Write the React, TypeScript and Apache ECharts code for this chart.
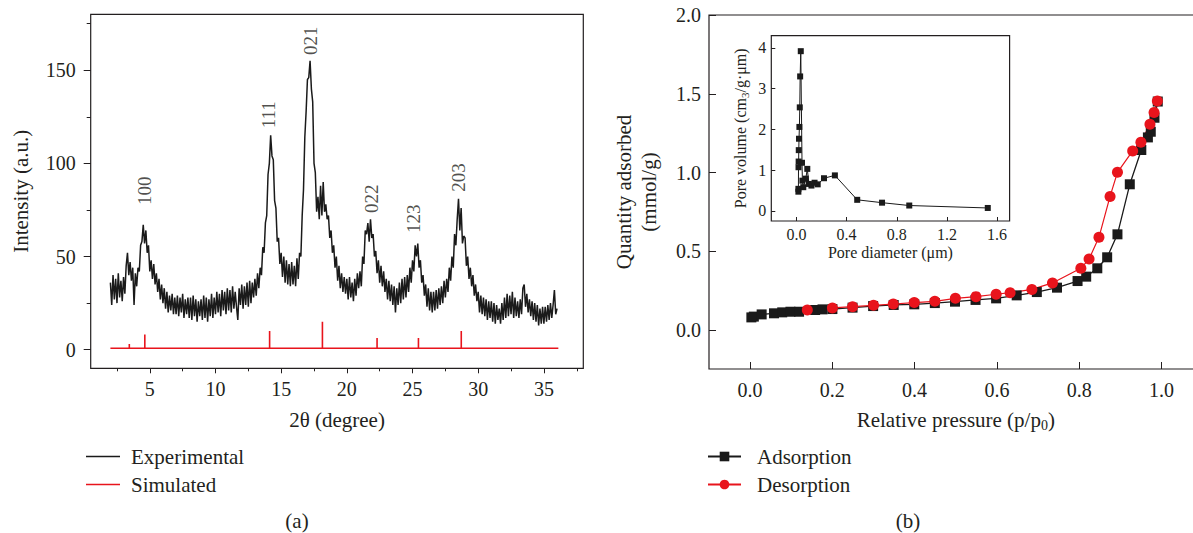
import React, { useEffect, useRef } from "react";
import * as echarts from "echarts";

// ---------------- (a) XRD pattern ----------------
const xrdTwoThetaStart = 2.0;
const xrdTwoThetaStep = 0.1;
const xrdIntensity: number[] = [
  36, 24, 40, 27, 38, 25, 41, 28, 37, 26, // 2.x
  39, 30, 45, 52, 40, 47, 37, 44, 24, 41, // 3.x
  34, 44, 42, 56, 58, 67, 57, 64, 52, 56, // 4.x
  42, 48, 38, 46, 35, 41, 31, 38, 27, 35, // 5.x
  25, 33, 22, 31, 20, 29, 21, 30, 19, 28, // 6.x
  19, 29, 18, 28, 20, 30, 17, 27, 19, 28, // 7.x
  17, 28, 16, 29, 18, 27, 15, 26, 18, 27, // 8.x
  16, 29, 17, 28, 15, 27, 18, 30, 17, 28, // 9.x
  19, 31, 20, 30, 18, 32, 21, 31, 19, 33, // 10.x
  21, 32, 20, 34, 22, 31, 23, 16, 33, 24, // 11.x
  35, 22, 34, 24, 36, 23, 37, 25, 36, 28, // 12.x
  38, 29, 41, 33, 44, 40, 55, 52, 68, 72, // 13.x
  94, 100, 115, 104, 102, 80, 76, 58, 60, 46, // 14.x
  52, 39, 50, 36, 48, 35, 46, 34, 47, 35, // 15.x
  45, 34, 49, 38, 52, 50, 72, 86, 114, 128, // 16.x
  145, 146, 155, 140, 133, 100, 95, 74, 82, 70, // 17.x
  88, 72, 90, 74, 78, 70, 72, 60, 64, 52, // 18.x
  56, 44, 50, 37, 45, 33, 41, 31, 39, 30, // 19.x
  38, 27, 39, 28, 36, 26, 38, 29, 41, 33, // 20.x
  42, 34, 50, 46, 64, 62, 68, 58, 70, 60, // 21.x
  62, 50, 53, 41, 48, 36, 45, 34, 42, 31, // 22.x
  38, 27, 37, 26, 35, 24, 34, 20, 33, 24, // 23.x
  36, 25, 38, 27, 39, 28, 40, 31, 44, 36, // 24.x
  48, 42, 56, 50, 57, 44, 48, 36, 40, 29, // 25.x
  35, 23, 33, 21, 31, 20, 31, 21, 32, 22, // 26.x
  33, 24, 34, 25, 37, 28, 38, 31, 44, 37, // 27.x
  50, 44, 62, 56, 70, 81, 64, 76, 57, 61, // 28.x
  60, 45, 50, 38, 44, 34, 40, 29, 35, 26, // 29.x
  31, 20, 29, 19, 28, 18, 27, 16, 26, 17, // 30.x
  26, 15, 25, 14, 24, 16, 22, 14, 25, 16, // 31.x
  28, 17, 30, 18, 29, 19, 31, 17, 28, 18, // 32.x
  26, 17, 27, 19, 33, 35, 23, 30, 20, 27, // 33.x
  18, 26, 16, 25, 15, 24, 13, 22, 14, 23, // 34.x
  14, 23, 15, 24, 16, 25, 17, 24, 32, 19, // 35.x
  22, // 36.0
];

const simPeakPos = [3.44, 4.62, 14.12, 18.14, 22.3, 25.45, 28.71];
const simPeakHeight = [3.0, 8.2, 10.0, 15.0, 6.3, 6.3, 10.0];
const simBaseline = 0.8;
const simStart = 2.0;
const simEnd = 36.1;

const hklLabels = ["100", "111", "021", "022", "123", "203"];
const hklPos = [4.63, 14.02, 17.2, 21.9, 25.1, 28.53];
const hklLabelBase = [77.7, 118.8, 158.2, 73.4, 62.6, 84.8];

// ---------------- (b) N2 isotherm ----------------
const adsPressure = [0.003, 0.009, 0.028, 0.058, 0.078, 0.098, 0.119, 0.158, 0.176, 0.2, 0.249, 0.299, 0.349, 0.399, 0.449, 0.498, 0.548, 0.598, 0.648, 0.697, 0.746, 0.796, 0.817, 0.844, 0.868, 0.893, 0.923, 0.951, 0.967, 0.974, 0.983, 0.991];
const adsQuantity = [0.078, 0.083, 0.097, 0.104, 0.11, 0.114, 0.114, 0.125, 0.129, 0.131, 0.14, 0.15, 0.157, 0.161, 0.169, 0.178, 0.189, 0.199, 0.218, 0.239, 0.267, 0.309, 0.337, 0.39, 0.46, 0.606, 0.924, 1.142, 1.222, 1.258, 1.347, 1.45];

const desPressure = [0.99, 0.982, 0.972, 0.95, 0.93, 0.893, 0.875, 0.848, 0.824, 0.804, 0.735, 0.685, 0.632, 0.598, 0.549, 0.499, 0.449, 0.399, 0.348, 0.3, 0.249, 0.2, 0.139];
const desQuantity = [1.453, 1.381, 1.305, 1.191, 1.136, 1.0, 0.847, 0.587, 0.449, 0.39, 0.297, 0.256, 0.235, 0.225, 0.21, 0.199, 0.18, 0.172, 0.163, 0.155, 0.146, 0.138, 0.125];

// inset: pore size distribution
const poreDiameter = [0.016, 0.016, 0.017, 0.018, 0.019, 0.021, 0.024, 0.027, 0.03, 0.035, 0.045, 0.048, 0.055, 0.075, 0.087, 0.1, 0.12, 0.145, 0.17, 0.22, 0.307, 0.485, 0.683, 0.9, 1.526];
const poreVolume = [0.47, 0.54, 1.07, 1.21, 1.49, 1.77, 2.06, 2.54, 3.3, 3.92, 1.18, 0.74, 0.58, 0.79, 1.03, 0.66, 0.62, 0.69, 0.65, 0.8, 0.87, 0.27, 0.2, 0.13, 0.07];

const FONT = '"Liberation Serif", "DejaVu Serif", serif';
const INK = "#231f20";
const RED = "#e8141c";

function hiddenAxis(gridIndex: number) {
  return { type: "value", gridIndex, show: false, min: 0, max: 1 };
}

function tickAxis(gridIndex: number, min: number, max: number, interval: number, o: any) {
  return {
    type: "value",
    gridIndex,
    min,
    max,
    interval,
    axisLine: { show: false },
    splitLine: { show: false },
    axisTick: { show: true, inside: !!o.inside, length: o.len, lineStyle: { color: INK, width: 1 } },
    axisLabel: o.labels
      ? {
          show: true,
          margin: o.margin,
          fontSize: o.fontSize,
          fontFamily: FONT,
          color: INK,
          formatter: o.formatter,
        }
      : { show: false },
  };
}

function mainAxis(gridIndex: number, min: number, max: number, extra: any) {
  return {
    type: "value",
    gridIndex,
    min,
    max,
    axisLine: { show: false },
    axisTick: { show: false },
    axisLabel: { show: false },
    splitLine: { show: false },
    nameLocation: "middle",
    ...extra,
  };
}

const border = { show: true, borderColor: INK, borderWidth: 1.2, backgroundColor: "transparent" };

export default function App() {
  const ref = useRef<HTMLDivElement>(null);

  useEffect(() => {
    if (!ref.current) return;
    const chart = echarts.init(ref.current, null, { renderer: "svg" });

    const xrdData = xrdIntensity.map((v, i) => [
      Math.round((xrdTwoThetaStart + i * xrdTwoThetaStep) * 10) / 10,
      v,
    ]);
    const simData: number[][] = [[simStart, simBaseline]];
    simPeakPos.forEach((p, i) => {
      simData.push([p, simBaseline], [p, simPeakHeight[i]], [p, simBaseline]);
    });
    simData.push([simEnd, simBaseline]);
    const hklData = hklLabels.map((n, i) => ({ name: n, value: [hklPos[i], hklLabelBase[i]] }));
    const adsData = adsPressure.map((p, i) => [p, adsQuantity[i]]);
    const desData = desPressure.map((p, i) => [p, desQuantity[i]]);
    const poreData = poreDiameter.map((d, i) => [d, poreVolume[i]]);

    const titleStyle = { fontFamily: FONT, fontSize: 21, color: INK };
    const subRich = {
      sub: { fontFamily: FONT, fontSize: 14, lineHeight: 14, verticalAlign: "bottom", color: INK },
    };

    const grids = [
      { left: 90.7, top: 14.3, width: 492.6, height: 354, ...border }, // 0 XRD main
      { left: 149.8, top: 14.3, width: 394.1, height: 354 }, // 1 XRD x major
      { left: 116.97, top: 14.3, width: 459.8, height: 354 }, // 2 XRD x minor
      { left: 90.7, top: 70.2, width: 492.6, height: 279.5 }, // 3 XRD y major
      { left: 90.7, top: 23.7, width: 492.6, height: 326 }, // 4 XRD y minor
      { left: 709, top: 15, width: 493.6, height: 354, ...border }, // 5 iso main
      { left: 750.1, top: 15, width: 411.3, height: 354 }, // 6 iso x ticks
      { left: 709, top: 15, width: 493.6, height: 315 }, // 7 iso y ticks
      { left: 771.3, top: 35.7, width: 238.3, height: 185.3, ...border }, // 8 inset main
      { left: 796.4, top: 35.7, width: 200.7, height: 185.3 }, // 9 inset x ticks
      { left: 771.3, top: 47.9, width: 238.3, height: 162.9 }, // 10 inset y ticks
    ].map((g) => ({ outerBoundsMode: "none", containLabel: false, ...g }));

    const xAxis = [
      mainAxis(0, 0.5, 38, { name: "2θ (degree)", nameGap: 41, nameTextStyle: { ...titleStyle, lineHeight: 22 } }),
      tickAxis(1, 5, 35, 5, { len: 5, labels: true, margin: 11, fontSize: 20 }),
      tickAxis(2, 2.5, 37.5, 2.5, { len: 3, labels: false }),
      hiddenAxis(3),
      hiddenAxis(4),
      mainAxis(5, -0.1, 1.1, {
        name: "Relative pressure (p/p{sub|0})",
        nameGap: 39,
        nameTextStyle: { ...titleStyle, lineHeight: 24, rich: subRich },
      }),
      tickAxis(6, 0, 1, 0.2, { len: 7, inside: true, labels: true, margin: 11, fontSize: 20, formatter: (v: number) => v.toFixed(1) }),
      hiddenAxis(7),
      mainAxis(8, -0.2, 1.7, { name: "Pore diameter (μm)", nameGap: 22, nameTextStyle: { fontFamily: FONT, fontSize: 16, color: INK, lineHeight: 18 } }),
      tickAxis(9, 0, 1.6, 0.4, { len: 4, inside: true, labels: true, margin: 5, fontSize: 16, formatter: (v: number) => v.toFixed(1) }),
      hiddenAxis(10),
    ];

    const yAxis = [
      mainAxis(0, -10, 180, { name: "Intensity (a.u.)", nameGap: 59, nameTextStyle: { ...titleStyle, lineHeight: 22 } }),
      hiddenAxis(1),
      hiddenAxis(2),
      tickAxis(3, 0, 150, 50, { len: 7, labels: true, margin: 15, fontSize: 20 }),
      tickAxis(4, 0, 175, 25, { len: 4, labels: false }),
      mainAxis(5, -0.25, 2.0, {
        name: "Quantity adsorbed\n(mmol/g)",
        nameGap: 48,
        nameTextStyle: { ...titleStyle, lineHeight: 25 },
      }),
      hiddenAxis(6),
      tickAxis(7, 0, 2, 0.5, { len: 7, inside: true, labels: true, margin: 8, fontSize: 20, formatter: (v: number) => v.toFixed(1) }),
      mainAxis(8, -0.25, 4.3, {
        name: "Pore volume (cm{sub|3}/g·μm)",
        nameGap: 21,
        nameTextStyle: {
          fontFamily: FONT,
          fontSize: 16,
          color: INK,
          lineHeight: 19,
          rich: { sub: { fontFamily: FONT, fontSize: 11, lineHeight: 11, verticalAlign: "bottom", color: INK } },
        },
      }),
      hiddenAxis(9),
      tickAxis(10, 0, 4, 1, { len: 4, inside: true, labels: true, margin: 5, fontSize: 16 }),
    ];

    const legendText = { fontFamily: FONT, fontSize: 21, color: INK, lineHeight: 20 };

    chart.setOption({
      animation: false,
      backgroundColor: "#ffffff",
      textStyle: { fontFamily: FONT },
      grid: grids,
      xAxis,
      yAxis,
      legend: [
        {
          data: [
            { name: "Experimental", icon: "rect" },
            { name: "Simulated", icon: "rect" },
          ],
          left: 86,
          top: 446,
          orient: "vertical",
          itemWidth: 34,
          itemHeight: 1.5,
          itemGap: 7,
          padding: 0,
          selectedMode: false,
          textStyle: { ...legendText, padding: [0, 0, 0, 6] },
        },
        {
          data: ["Adsorption", "Desorption"],
          left: 707,
          top: 446,
          orient: "vertical",
          itemWidth: 33,
          itemHeight: 12,
          itemGap: 7,
          padding: 0,
          selectedMode: false,
          textStyle: { ...legendText, padding: [0, 0, 0, 11] },
        },
      ],
      graphic: [
        { type: "text", x: 297, y: 521, style: { text: "(a)", fontFamily: FONT, fontSize: 21, fill: INK, align: "center", verticalAlign: "middle" } },
        { type: "text", x: 908, y: 521, style: { text: "(b)", fontFamily: FONT, fontSize: 21, fill: INK, align: "center", verticalAlign: "middle" } },
      ],
      series: [
        {
          name: "Experimental",
          type: "line",
          xAxisIndex: 0,
          yAxisIndex: 0,
          data: xrdData,
          symbol: "none",
          color: "#1a1a1a",
          lineStyle: { color: "#1a1a1a", width: 1.5 },
          silent: true,
        },
        {
          name: "Simulated",
          type: "line",
          xAxisIndex: 0,
          yAxisIndex: 0,
          data: simData,
          symbol: "none",
          color: RED,
          lineStyle: { color: RED, width: 1.6 },
          silent: true,
        },
        {
          name: "hkl",
          type: "scatter",
          xAxisIndex: 0,
          yAxisIndex: 0,
          data: hklData,
          symbolSize: 1,
          itemStyle: { color: "rgba(0,0,0,0)" },
          silent: true,
          label: {
            show: true,
            position: "inside",
            rotate: 90,
            align: "left",
            verticalAlign: "middle",
            formatter: "{b}",
            fontFamily: FONT,
            fontSize: 19,
            color: INK,
          },
        },
        {
          name: "Adsorption",
          type: "line",
          xAxisIndex: 5,
          yAxisIndex: 5,
          data: adsData,
          symbol: "rect",
          symbolSize: 10,
          showAllSymbol: true,
          color: "#1a1a1a",
          itemStyle: { color: "#1a1a1a" },
          lineStyle: { color: "#1a1a1a", width: 1.3 },
          silent: true,
        },
        {
          name: "Desorption",
          type: "line",
          xAxisIndex: 5,
          yAxisIndex: 5,
          data: desData,
          symbol: "circle",
          symbolSize: 11,
          showAllSymbol: true,
          color: RED,
          itemStyle: { color: RED },
          lineStyle: { color: RED, width: 1.2 },
          silent: true,
        },
        {
          name: "Pore size distribution",
          type: "line",
          xAxisIndex: 8,
          yAxisIndex: 8,
          data: poreData,
          symbol: "rect",
          symbolSize: 6,
          showAllSymbol: true,
          color: "#1a1a1a",
          itemStyle: { color: "#1a1a1a" },
          lineStyle: { color: "#1a1a1a", width: 1 },
          silent: true,
        },
      ],
    });

    return () => chart.dispose();
  }, []);

  return (
    <div
      ref={ref}
      style={{ position: "absolute", left: 0, top: 0, width: 1193, height: 533, background: "#fff" }}
    />
  );
}
